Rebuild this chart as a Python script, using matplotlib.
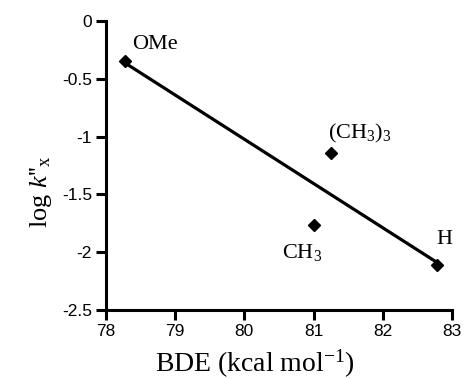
import numpy as np
import matplotlib
matplotlib.use("Agg")
import matplotlib.pyplot as plt

plt.rcParams['mathtext.fontset'] = 'custom'
plt.rcParams['mathtext.rm'] = 'Liberation Serif'
plt.rcParams['mathtext.it'] = 'Liberation Serif:italic'
plt.rcParams['axes.unicode_minus'] = False

# data
bde = [78.28, 81.25, 81.01, 82.79]
log_k = [-0.346, -1.145, -1.765, -2.11]
names = ["OMe", "(CH$_3$)$_3$", "CH$_3$", "H"]
# label offsets in pixels (dx, dy) relative to each point
offsets = [(7, 12), (-3, 15), (-32, -33), (-1, 21)]

xticks = [78, 79, 80, 81, 82, 83]
yticks = [0, -0.5, -1, -1.5, -2, -2.5]
ytick_labels = ["0", "-0.5", "-1", "-1.5", "-2", "-2.5"]

fig = plt.figure(figsize=(4.64, 3.79), dpi=100)
ax = fig.add_axes([0.2284, 0.182, 0.7456, 0.7626])

# linear fit through the points
coeffs = np.polyfit(bde, log_k, 1)
xs = np.array([min(bde), max(bde)])
ax.plot(xs, np.polyval(coeffs, xs), '-k', lw=2.3, zorder=2)
ax.plot(bde, log_k, 'D', color='black', markersize=6.5, zorder=3)

for x, y, name, (dx, dy) in zip(bde, log_k, names, offsets):
    ax.annotate(name, (x, y), xytext=(dx, dy), textcoords='offset pixels',
                family='Liberation Serif', fontsize=16, ha='left', va='baseline')

ax.set_xlim(78, 83)
ax.set_ylim(-2.5, 0)
ax.set_xticks(xticks)
ax.set_xticklabels([str(t) for t in xticks])
ax.set_yticks(yticks)
ax.set_yticklabels(ytick_labels)

for side in ['top', 'right']:
    ax.spines[side].set_visible(False)
for side in ['left', 'bottom']:
    ax.spines[side].set_linewidth(2.2)
ax.tick_params(direction='out', length=7, width=2.2, pad=3)
for lab in ax.get_xticklabels() + ax.get_yticklabels():
    lab.set_family('Liberation Sans')
    lab.set_fontsize(12.5)

ax.set_xlabel("BDE (kcal mol$^{\\mathrm{-1}}$)", family='Liberation Serif', fontsize=20)
ax.set_ylabel("log $\\mathit{k}$''$_{\\mathrm{x}}$", family='Liberation Serif', fontsize=19)
ax.xaxis.set_label_coords(0.43, -0.13)
ax.yaxis.set_label_coords(-0.15, 0.41)

plt.savefig("out.png", dpi=100)
